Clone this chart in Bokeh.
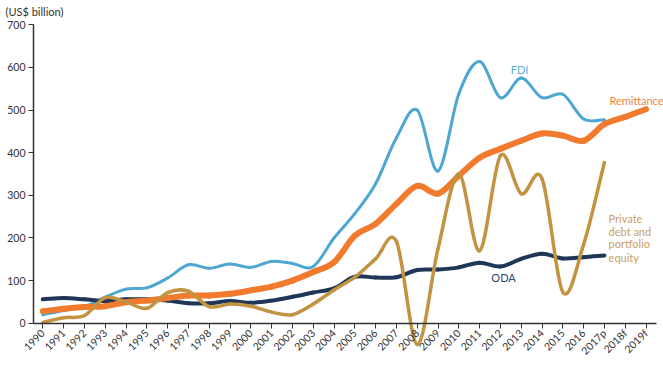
from bokeh.plotting import figure
from bokeh.models import FixedTicker, Label, Range1d
from bokeh.embed import file_html
from bokeh.resources import INLINE

# ---- data (US$ billion) ----
years = ["1990", "1991", "1992", "1993", "1994", "1995", "1996", "1997", "1998", "1999",
         "2000", "2001", "2002", "2003", "2004", "2005", "2006", "2007", "2008", "2009",
         "2010", "2011", "2012", "2013", "2014", "2015", "2016", "2017p", "2018f", "2019f"]

fdi = [20, 30, 39, 61, 80, 83, 106, 137, 129, 139,
       131, 145, 140, 133, 200, 257, 327, 435, 500, 357,
       538, 614, 529, 575, 529, 537, 479, 477]

remittance = [28, 34, 38, 40, 49, 53, 59, 65, 65, 69,
              77, 86, 100, 120, 143, 205, 233, 280, 322, 304,
              346, 388, 409, 428, 445, 440, 428, 467, 484, 502]

private_debt = [2, 13, 18, 60, 50, 35, 72, 75, 39, 45,
                40, 26, 20, 45, 78, 108, 151, 192, -50, 175,
                350, 170, 393, 304, 339, 73, 185, 377]

oda = [56, 59, 56, 52, 56, 56, 53, 47, 47, 52,
       48, 53, 62, 72, 82, 109, 107, 108, 125, 126,
       131, 142, 133, 151, 163, 152, 155, 159]

y_ticks = [0, 100, 200, 300, 400, 500, 600, 700]

FONT = "Lato"
X0 = -0.447  # where the vertical axis sits (x units)


def bezier_segments(vals):
    """Catmull-Rom style smooth curve expressed as cubic Bezier segments."""
    n = len(vals)
    xs = list(range(n))
    tang = []
    for i in range(n):
        if i == 0:
            tang.append(vals[1] - vals[0])
        elif i == n - 1:
            tang.append(vals[-1] - vals[-2])
        else:
            tang.append((vals[i + 1] - vals[i - 1]) / 2.0)
    d = dict(x0=[], y0=[], x1=[], y1=[], cx0=[], cy0=[], cx1=[], cy1=[])
    for i in range(n - 1):
        d["x0"].append(xs[i]); d["y0"].append(vals[i])
        d["x1"].append(xs[i + 1]); d["y1"].append(vals[i + 1])
        d["cx0"].append(xs[i] + 1 / 3); d["cy0"].append(vals[i] + tang[i] / 3)
        d["cx1"].append(xs[i + 1] - 1 / 3); d["cy1"].append(vals[i + 1] - tang[i + 1] / 3)
    return d


p = figure(width=663, height=372, output_backend="svg", toolbar_location=None,
           x_range=Range1d(-2.034, 29.84), y_range=Range1d(-115.6, 757),
           min_border_left=0, min_border_right=0, min_border_top=0, min_border_bottom=0)
p.outline_line_color = None
p.xgrid.visible = False
p.ygrid.visible = False
p.background_fill_color = "white"
p.border_fill_color = "white"

series = [
    (fdi, "#4ea6d2", 3),
    (oda, "#1e3658", 4),
    (remittance, "#f27a2c", 6),
    (private_debt, "#c29341", 3.5),
]
for vals, col, w in series:
    seg = bezier_segments(vals)
    p.bezier(x0=seg["x0"], y0=seg["y0"], x1=seg["x1"], y1=seg["y1"],
             cx0=seg["cx0"], cy0=seg["cy0"], cx1=seg["cx1"], cy1=seg["cy1"],
             line_color=col, line_width=w, line_cap="round")

# x axis
xa = p.xaxis[0]
xa.fixed_location = 0
xa.bounds = (X0, 29.5)
xa.ticker = FixedTicker(ticks=list(range(len(years))))
xa.major_label_overrides = {i: y for i, y in enumerate(years)}
xa.major_label_orientation = 0.785
xa.minor_tick_line_color = None
xa.major_tick_out = 5
xa.major_tick_in = 0
xa.axis_line_color = "#333333"
xa.axis_line_width = 1.5
xa.major_tick_line_color = "#333333"
xa.major_label_text_font = FONT
xa.major_label_text_font_size = "10.5px"
xa.major_label_text_color = "#333333"
xa.major_label_standoff = 3

# y axis
ya = p.yaxis[0]
ya.fixed_location = X0
ya.bounds = (0, 700)
ya.ticker = FixedTicker(ticks=y_ticks)
ya.minor_tick_line_color = None
ya.major_tick_out = 5
ya.major_tick_in = 0
ya.axis_line_color = "#333333"
ya.axis_line_width = 1.5
ya.major_tick_line_color = "#333333"
ya.major_label_text_font = FONT
ya.major_label_text_font_size = "10.5px"
ya.major_label_text_color = "#333333"
ya.major_label_standoff = 3

# unit title
p.add_layout(Label(x=-1.793, y=731, text="(US$ billion)", text_font=FONT,
                   text_font_size="11px", text_color="#333333",
                   text_align="left", text_baseline="middle"))

# series labels
p.add_layout(Label(x=22.92, y=595, text="FDI", text_font=FONT, text_font_size="11px",
                   text_color="#5aaed6", text_align="center", text_baseline="middle"))
p.add_layout(Label(x=27.24, y=522, text="Remittance", text_font=FONT, text_font_size="11px",
                   text_color="#ec8540", text_align="left", text_baseline="middle"))
for txt, yy in [("Private", 245), ("debt and", 215), ("portfolio", 187), ("equity", 154)]:
    p.add_layout(Label(x=27.2, y=yy, text=txt, text_font=FONT, text_font_size="11px",
                       text_color="#c9a062", text_align="left", text_baseline="middle"))
p.add_layout(Label(x=22.15, y=107, text="ODA", text_font=FONT, text_font_size="11px",
                   text_color="#2a4670", text_align="center", text_baseline="middle"))

open("out.html", "w").write(file_html(p, INLINE))
